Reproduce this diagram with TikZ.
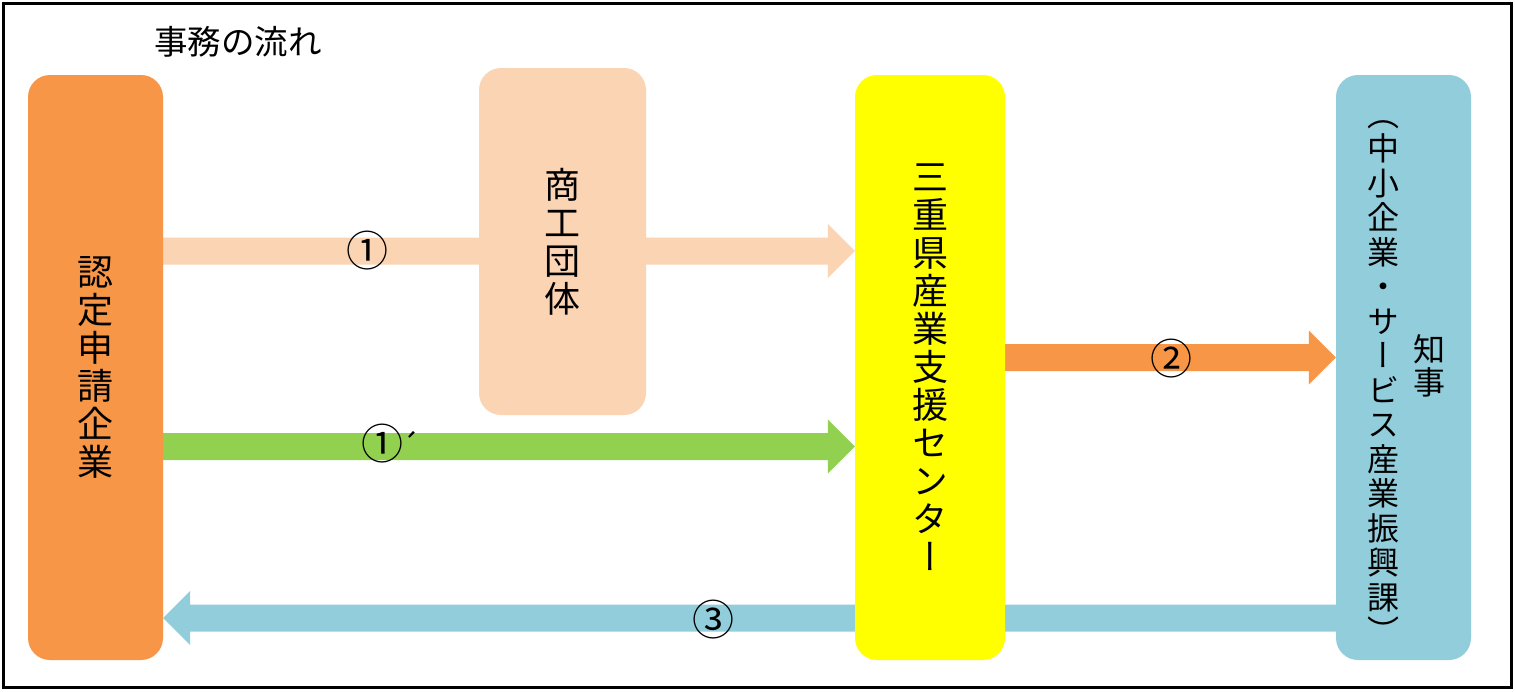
\documentclass[tikz,border=0pt]{standalone}
\usepackage{fontspec}
\setmainfont{Noto Sans CJK JP}
\newfontfamily\vjp[RawFeature=+vert]{Noto Sans CJK JP}
\usetikzlibrary{calc}
\pgfdeclarelayer{bgw}
\pgfdeclarelayer{bg}
\pgfsetlayers{bgw,bg,main}
\definecolor{cOrange}{HTML}{F79646}
\definecolor{cPeach}{HTML}{FBD4B4}
\definecolor{cYellow}{HTML}{FFFF00}
\definecolor{cBlue}{HTML}{92CDDC}
\definecolor{cGreen}{HTML}{92D050}
\newcommand\fatarrow[3]{%
  \fill[#1] let \p1=(#2), \p2=(#3), \n1={sign(\x2-\x1)} in
   (\x1,\y1+13.5pt) -- ({\x2-\n1*27pt},\y1+13.5pt) -- ({\x2-\n1*27pt},\y1+27pt)
   -- (\x2,\y1) -- ({\x2-\n1*27pt},\y1-27pt) -- ({\x2-\n1*27pt},\y1-13.5pt)
   -- (\x1,\y1-13.5pt) -- cycle;}
\tikzset{
  box/.style={rounded corners=22pt, inner sep=0pt, align=center,
    font=\vjp\fontsize{36}{38}\selectfont},
  vtext/.style={inner sep=0pt, align=center, font=\vjp\fontsize{32}{34.5}\selectfont},
  lab/.style={inner sep=0pt, font=\fontsize{42}{44}\selectfont}
}
\begin{document}
\begin{tikzpicture}[x=1pt,y=-1pt]
\useasboundingbox (0,0) rectangle (1515,691);
\begin{pgfonlayer}{bgw}
\fill[white] (0,0) rectangle (1515,691);
\end{pgfonlayer}
\draw[line width=3pt] (3.5,3.5) rectangle (1511.5,687.5);

\node[anchor=west, inner sep=0pt, font=\fontsize{33.5}{36}\selectfont] (title) at (154,42) {事務の流れ};

\node[box, fill=cOrange, minimum width=135pt, minimum height=585pt] (kigyo) at (95.5,367.5) {認\\定\\申\\請\\企\\業};
\node[box, fill=cPeach, minimum width=167pt, minimum height=347pt] (dantai) at (562.5,241.5) {商\\工\\団\\体};
\node[box, fill=cYellow, minimum width=150pt, minimum height=585pt] (center) at (930,367.5) {三\\重\\県\\産\\業\\支\\援\\セ\\ン\\タ\\ー};
\node[box, fill=cBlue, minimum width=135pt, minimum height=585pt] (chijibox) at (1403.5,367.5) {};
\node[vtext] (kacho) at (1383,382) {（\\中\\小\\企\\業\\・\\サ\\ー\\ビ\\ス\\産\\業\\振\\興\\課\\）};
\node[vtext, font=\vjp\fontsize{32}{33.3}\selectfont] (chiji) at (1429,366) {知\\事};

\coordinate (ya) at (0,251);
\coordinate (yb) at (0,446.5);
\coordinate (yc) at (0,357.5);
\coordinate (yd) at (0,618);

\begin{pgfonlayer}{bg}
\fatarrow{cPeach}{kigyo.east |- ya}{center.west |- ya}
\fatarrow{cGreen}{kigyo.east |- yb}{center.west |- yb}
\fatarrow{cOrange}{center.east |- yc}{chijibox.west |- yc}
\fatarrow{cBlue}{chijibox.west |- yd}{kigyo.east |- yd}
\end{pgfonlayer}

\node[lab] (l1) at (367.5,251) {①};
\node[lab, anchor=west] (l1b) at (361,444) {①\hspace{-2pt}\raisebox{2pt}{\fontsize{30}{30}\selectfont ´}};
\node[lab] (l2) at (1171,359) {②};
\node[lab] (l3) at (713,620) {③};
\end{tikzpicture}
\end{document}
